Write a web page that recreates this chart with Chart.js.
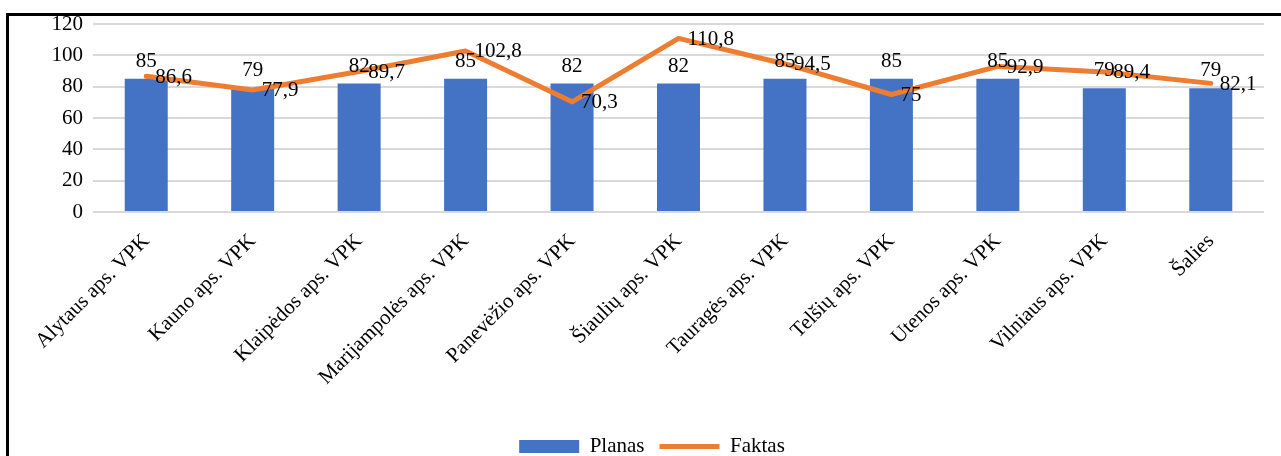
<!DOCTYPE html>
<html>
<head>
<meta charset="utf-8">
<script src="https://cdn.jsdelivr.net/npm/chart.js@4/dist/chart.umd.min.js"></script>
<style>
html, body { margin: 0; padding: 0; background: #fff; overflow: hidden; }
#chart { position: absolute; left: 0; top: 0; }
#frame { position: absolute; left: 6px; top: 13px; width: 1400px; height: 600px;
         border-left: 3px solid #000; border-top: 3px solid #000; pointer-events: none; }
</style>
</head>
<body>
<canvas id="chart" width="1281" height="467"></canvas>
<div id="frame"></div>
<script>
const regions = ["Alytaus aps. VPK", "Kauno aps. VPK", "Klaipėdos aps. VPK", "Marijampolės aps. VPK",
                 "Panevėžio aps. VPK", "Šiaulių aps. VPK", "Tauragės aps. VPK", "Telšių aps. VPK",
                 "Utenos aps. VPK", "Vilniaus aps. VPK", "Šalies"];
const planas = [85, 79, 82, 85, 82, 82, 85, 85, 85, 79, 79];
const faktas = [86.6, 77.9, 89.7, 102.8, 70.3, 110.8, 94.5, 75, 92.9, 89.4, 82.1];
const yMin = 0;
const yMax = 120;
const yStep = 20;

const blue = "#4472C4";
const orange = "#ED7D31";
const fontFamily = "'Times New Roman', 'Liberation Serif', serif";
const fontSize = 21;

const fmt = v => String(v).replace(".", ",");

// value labels like Excel: bars above, line to the right of the point
const valueLabels = {
    id: "valueLabels",
    afterDatasetsDraw(chart) {
        const ctx = chart.ctx;
        ctx.save();
        ctx.font = fontSize + "px " + fontFamily;
        ctx.fillStyle = "#000";
        ctx.textAlign = "center";
        ctx.textBaseline = "alphabetic";
        chart.getDatasetMeta(0).data.forEach((bar, i) => {
            ctx.fillText(fmt(planas[i]), bar.x, bar.y - 12);
        });
        ctx.textAlign = "left";
        ctx.textBaseline = "middle";
        chart.getDatasetMeta(1).data.forEach((pt, i) => {
            ctx.fillText(fmt(faktas[i]), pt.x + 9, pt.y + 1);
        });
        ctx.restore();
    }
};

const ctx = document.getElementById("chart");

new Chart(ctx, {
    type: "bar",
    data: {
        labels: regions,
        datasets: [{
            label: "Planas",
            data: planas,
            backgroundColor: blue,
            barPercentage: 0.404,
            categoryPercentage: 1,
            order: 1
        }, {
            type: "line",
            label: "Faktas",
            data: faktas,
            borderColor: orange,
            borderWidth: 5,
            borderJoinStyle: "round",
            borderCapStyle: "round",
            tension: 0,
            pointRadius: 0,
            fill: false,
            order: 0
        }]
    },
    options: {
        responsive: false,
        animation: false,
        devicePixelRatio: 1,
        layout: {padding: {left: 40, right: 17, top: 24, bottom: 0}},
        scales: {
            x: {
                grid: {display: false},
                border: {display: false},
                ticks: {
                    autoSkip: false,
                    maxRotation: 45,
                    minRotation: 45,
                    padding: 9,
                    color: "#000",
                    font: {family: fontFamily, size: fontSize}
                },
                afterFit(scale) {
                    scale.height = 209;
                    scale.paddingLeft = 0;
                    scale.paddingRight = 0;
                }
            },
            y: {
                min: yMin,
                max: yMax,
                grid: {color: "#d9d9d9", lineWidth: 2, drawTicks: false},
                border: {display: false},
                ticks: {
                    stepSize: yStep,
                    padding: 10,
                    color: "#000",
                    font: {family: fontFamily, size: fontSize}
                },
                afterFit(scale) {
                    scale.width = 53;
                    scale.paddingTop = 0;
                    scale.paddingBottom = 0;
                }
            }
        },
        plugins: {
            tooltip: {enabled: false},
            legend: {
                display: true,
                position: "bottom",
                labels: {
                    usePointStyle: true,
                    pointStyleWidth: 60,
                    boxHeight: 13,
                    padding: 15,
                    color: "#000",
                    font: {family: fontFamily, size: fontSize},
                    generateLabels: () => [
                        {text: "Planas", fillStyle: blue, strokeStyle: blue, lineWidth: 0,
                         pointStyle: "rect", datasetIndex: 0, hidden: false, fontColor: "#000"},
                        {text: "Faktas", fillStyle: orange, strokeStyle: orange, lineWidth: 5,
                         pointStyle: "line", datasetIndex: 1, hidden: false, fontColor: "#000"}
                    ]
                }
            }
        }
    },
    plugins: [valueLabels]
});
</script>
</body>
</html>
